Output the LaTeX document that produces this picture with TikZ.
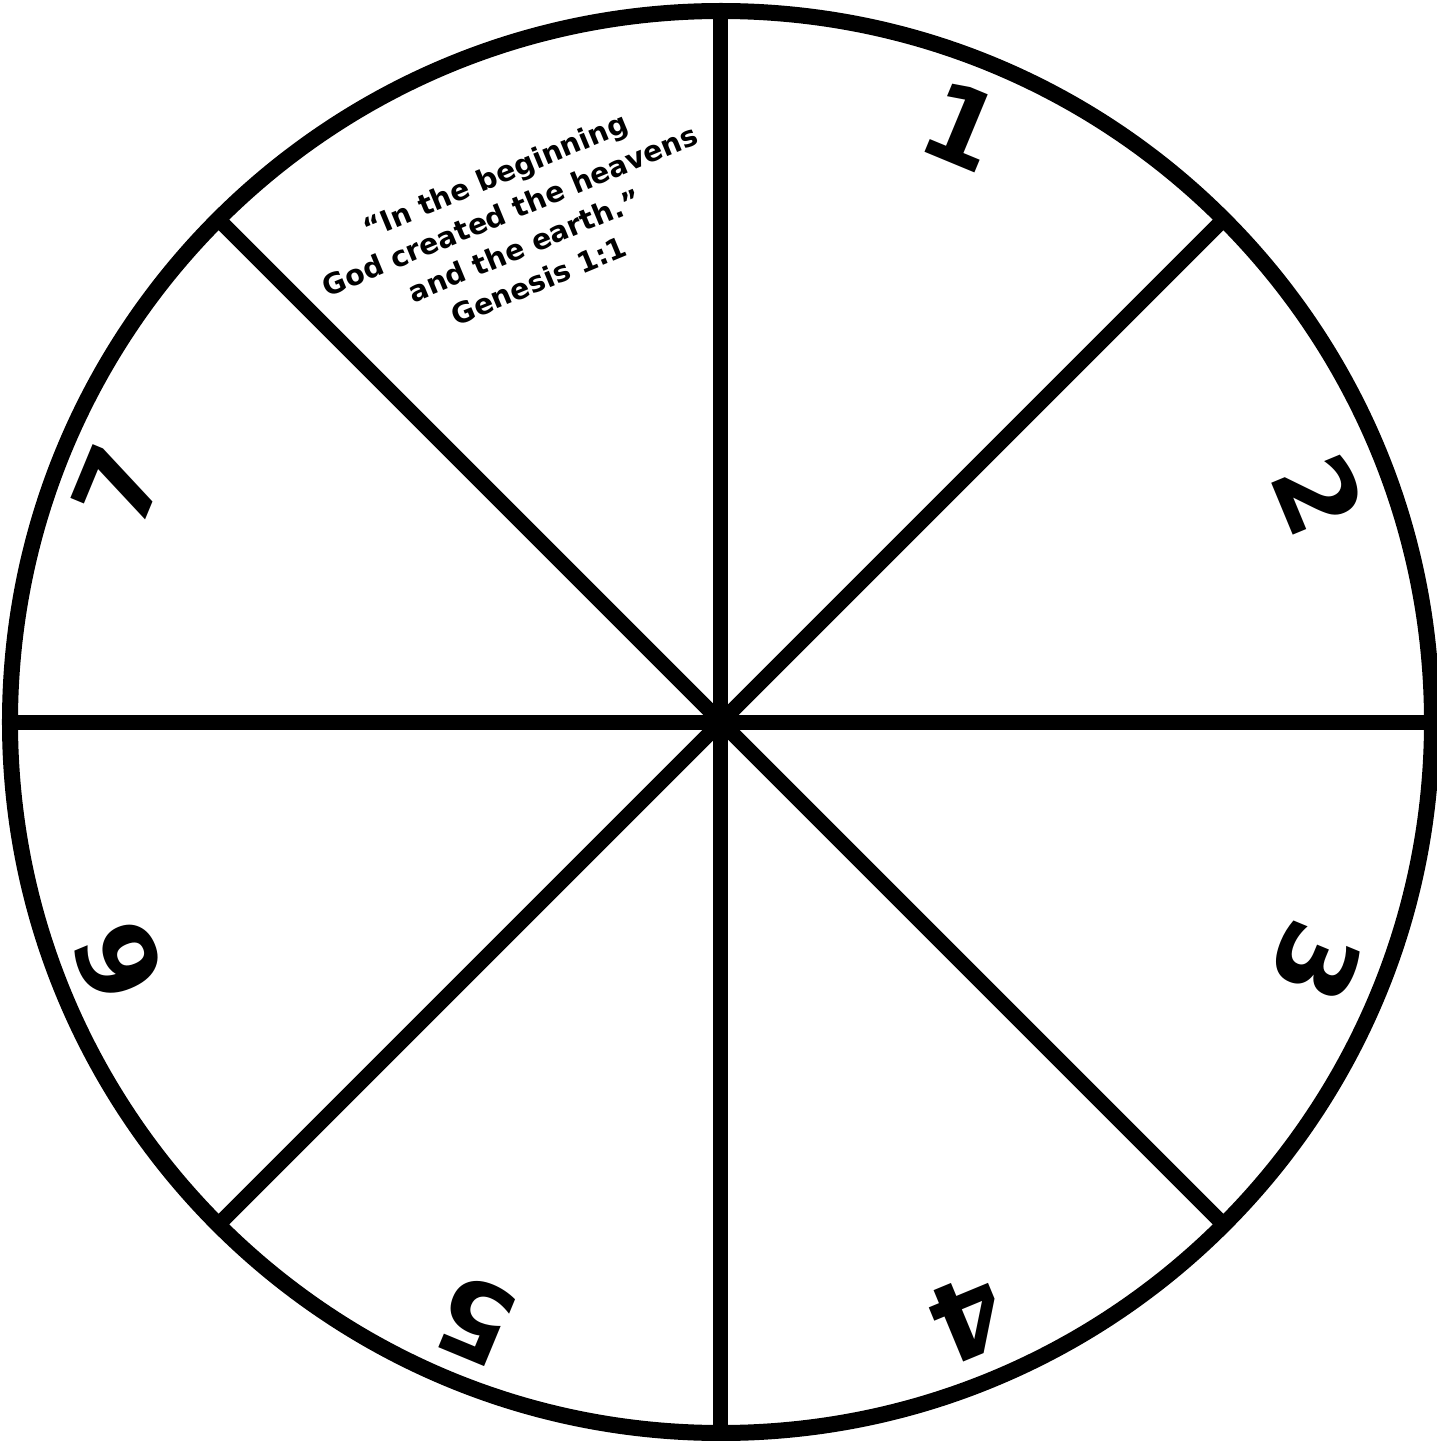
\documentclass[tikz,border=0pt]{standalone}
\usepackage{fontspec}
\setmainfont{DejaVu Sans}
\begin{document}
\begin{tikzpicture}[x=1pt,y=1pt,
  rim/.style={line width=16pt},
  spoke/.style={line width=15pt},
  digit/.style={inner sep=0pt,font=\fontsize{106}{106}\selectfont\bfseries},
  verse/.style={inner sep=0pt,align=center,font=\fontsize{28.5}{38}\selectfont\bfseries}]
\useasboundingbox (-721,-719) rectangle (716,722);
\coordinate (c) at (0,0);
\foreach \a in {0,45,...,315}{
  \coordinate (e\a) at (\a:711);
}
\draw[spoke] (e0) -- (e180);
\draw[spoke] (e45) -- (e225);
\draw[spoke] (e90) -- (e270);
\draw[spoke] (e135) -- (e315);
\draw[rim] (c) circle[radius=711];
\foreach \n/\pa/\rr [count=\k from 0] in {1/68/643,2/20.8/640,3/-22/642,4/-67.5/645,5/-112.3/647,6/-158.3/648,7/158.6/648}{
  \pgfmathsetmacro\rot{67.5-45*\k-90}
  \node[digit,rotate=\rot] (d\n) at (\pa:\rr) {\n};
}
\node[verse,rotate=22.5] (quote) at (-204,494)
  {“In the beginning\\God created the heavens\\and the earth.”\\Genesis 1:1};
\end{tikzpicture}
\end{document}
